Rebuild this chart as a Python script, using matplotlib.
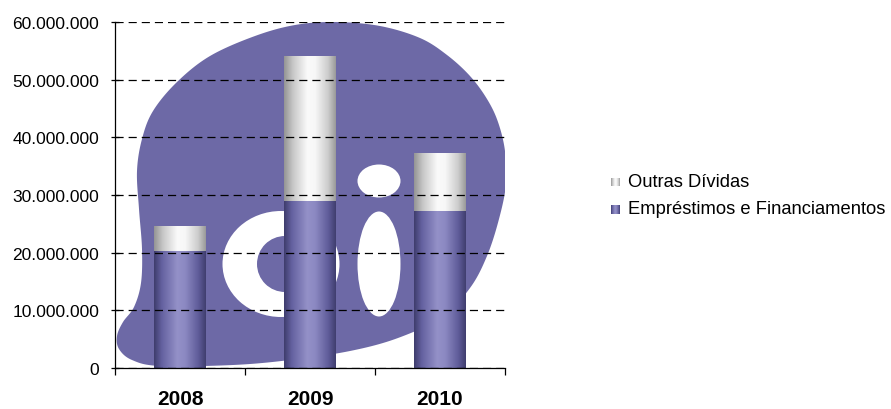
import numpy as np
import matplotlib
matplotlib.use("Agg")
import matplotlib.pyplot as plt
from matplotlib.path import Path
from matplotlib.patches import PathPatch, Ellipse
from matplotlib.colors import LinearSegmentedColormap
from matplotlib.ticker import FuncFormatter, FixedLocator

# ---- data ----
years = ["2008", "2009", "2010"]
emprestimos = [20300000, 29000000, 27200000]
outras = [4300000, 25000000, 9900000]
series_labels = ["Outras Dívidas", "Empréstimos e Financiamentos"]
yticks = [0, 10000000, 20000000, 30000000, 40000000, 50000000, 60000000]

plt.rcParams['font.family'] = ['Liberation Sans', 'DejaVu Sans']

W, H = 891, 410
fig = plt.figure(figsize=(W / 100, H / 100), dpi=100)
AX_L, AX_R, AX_T, AX_B = 115, 505, 23, 369
ax = fig.add_axes([AX_L / W, 1 - AX_B / H, (AX_R - AX_L) / W, (AX_B - AX_T) / H])

# ---- background logo (decoration) ----
def px2ax(x, y):
    return ((x - AX_L) / (AX_R - AX_L), (AX_B - y) / (AX_B - AX_T))

blob_px = [(335, 23), (380, 27), (420, 39), (447, 56), (470, 77), (487, 100),
           (498, 123), (505, 152), (506, 185), (499, 220), (487, 257), (470, 289),
           (442, 318), (398, 339), (350, 352), (290, 361), (233, 366), (160, 367),
           (132, 361), (119, 350), (117, 337), (123, 323), (134, 308), (141, 284),
           (142, 250), (139, 210), (137, 172), (142, 140), (153, 112), (177, 83),
           (210, 57), (255, 37), (295, 26)]

def catmull_closed(pts, n=12):
    pts = np.array(pts, dtype=float)
    N = len(pts)
    out = []
    for i in range(N):
        p0, p1, p2, p3 = pts[(i - 1) % N], pts[i], pts[(i + 1) % N], pts[(i + 2) % N]
        for t in np.linspace(0, 1, n, endpoint=False):
            t2, t3 = t * t, t * t * t
            out.append(0.5 * ((2 * p1) + (-p0 + p2) * t + (2 * p0 - 5 * p1 + 4 * p2 - p3) * t2
                              + (-p0 + 3 * p1 - 3 * p2 + p3) * t3))
    return np.array(out)

smooth = catmull_closed(blob_px)
verts = [px2ax(x, y) for x, y in smooth]
verts.append(verts[0])
codes = [Path.MOVETO] + [Path.LINETO] * (len(verts) - 2) + [Path.CLOSEPOLY]
blob_col = "#6d69a6"
ax.add_patch(PathPatch(Path(verts, codes), transform=ax.transAxes, facecolor=blob_col,
                       edgecolor="none", zorder=0.1))

def ell(cx, cy, w, h, col, z):
    c = px2ax(cx, cy)
    ax.add_patch(Ellipse(c, w / (AX_R - AX_L), h / (AX_B - AX_T), transform=ax.transAxes,
                         facecolor=col, edgecolor="none", zorder=z))

ell(281, 265, 117, 106, "white", 0.2)
ell(285, 265, 56, 56, blob_col, 0.3)
ell(379, 182, 43, 33, "white", 0.2)
ell(379, 265, 43, 105, "white", 0.2)

# ---- bars ----
x = np.arange(len(years))
width = 0.4
b1 = ax.bar(x, emprestimos, width, color="#8d89c4", zorder=2)
b2 = ax.bar(x, outras, width, bottom=emprestimos, color="#e8e8e8", zorder=2)

purple_cmap = LinearSegmentedColormap.from_list("pg", [
    (0.0, (62/255, 60/255, 108/255)), (0.15, (100/255, 97/255, 160/255)),
    (0.45, (148/255, 145/255, 200/255)), (0.6, (140/255, 137/255, 194/255)),
    (0.85, (96/255, 93/255, 155/255)), (1.0, (64/255, 62/255, 110/255))])
grey_cmap = LinearSegmentedColormap.from_list("gg", [
    (0.0, (0.58, 0.58, 0.58)), (0.17, (0.78, 0.78, 0.78)), (0.45, (0.98, 0.98, 0.98)),
    (0.6, (0.97, 0.97, 0.97)), (0.85, (0.8, 0.8, 0.8)), (1.0, (0.6, 0.6, 0.6))])
grad = np.linspace(0, 1, 256).reshape(1, -1)

for bars, cmap in ((b1, purple_cmap), (b2, grey_cmap)):
    for r in bars:
        x0, y0, w, h = r.get_x(), r.get_y(), r.get_width(), r.get_height()
        ax.imshow(grad, cmap=cmap, extent=[x0, x0 + w, y0, y0 + h], aspect="auto",
                  interpolation="bilinear", zorder=2.1)

ax.set_xlim(-0.5, 2.5)
ax.set_ylim(0, 60000000)

# ---- axes styling ----
ax.set_yticks(yticks)
ax.yaxis.set_major_formatter(FuncFormatter(lambda v, p: f"{int(v):,}".replace(",", ".")))
ax.tick_params(axis="y", length=6, width=0.9, pad=8.5, labelsize=12.5, colors="black",
               direction="inout")
ax.yaxis.grid(True, color="black", linewidth=0.9, linestyle=(0, (6.5, 4)), zorder=1)
ax.set_axisbelow(False)
for gl in ax.get_ygridlines():
    gl.set_zorder(1)

ax.xaxis.set_major_locator(FixedLocator([-0.5, 0.5, 1.5, 2.5]))
ax.xaxis.set_minor_locator(FixedLocator(list(x)))
ax.set_xticklabels([], minor=False)
ax.set_xticklabels(years, minor=True, fontsize=15, fontweight="bold")
ax.tick_params(axis="x", which="major", length=5, width=0.9, direction="out")
ax.tick_params(axis="x", which="minor", length=0, pad=15)

for s in ("top", "right"):
    ax.spines[s].set_visible(False)
for s in ("left", "bottom"):
    ax.spines[s].set_linewidth(0.9)
    ax.spines[s].set_color("black")
    ax.spines[s].set_zorder(3)
ax.patch.set_alpha(0)

# ---- legend ----
leg_items = [(series_labels[0], grey_cmap, 183), (series_labels[1], purple_cmap, 210)]
for label, cmap, yc in leg_items:
    lax = fig.add_axes([611 / W, 1 - (yc + 4.5) / H, 9 / W, 9 / H])
    lax.imshow(grad, cmap=cmap, aspect="auto", interpolation="bilinear")
    lax.axis("off")
    fig.text(628 / W, 1 - yc / H, label, fontsize=13.2, va="center", ha="left")

fig.savefig("out.png", dpi=100)
